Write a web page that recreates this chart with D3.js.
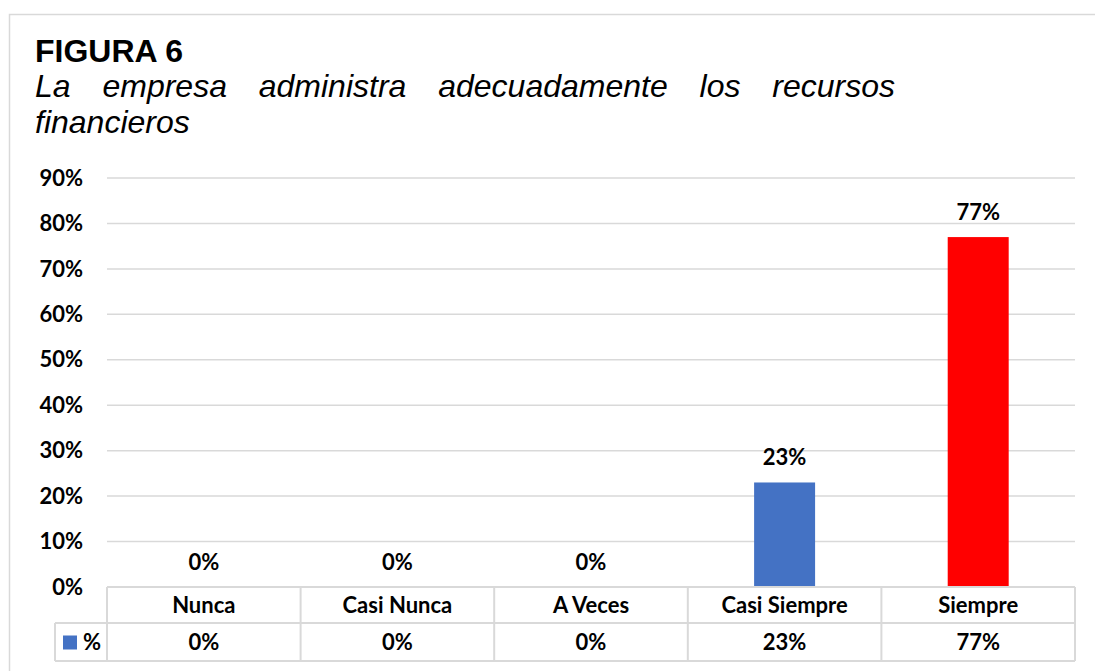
<!DOCTYPE html>
<html>
<head>
<meta charset="utf-8">
<script src="https://cdn.jsdelivr.net/npm/d3@7"></script>
<style>
  body { margin: 0; background: #fff; }
  svg { display: block; }
  .lbl { font-family: Lato, 'Open Sans', sans-serif; font-weight: bold; font-size: 22px; fill: #000; }
</style>
</head>
<body>
<svg id="chart" width="1095" height="671"></svg>
<script>
'use strict';

var categories = ['Nunca', 'Casi Nunca', 'A Veces', 'Casi Siempre', 'Siempre'];
var values = [0, 0, 0, 0.23, 0.77];
var barColors = ['#4472C4', '#4472C4', '#4472C4', '#4472C4', '#FF0000'];
var yTicks = [0, 0.1, 0.2, 0.3, 0.4, 0.5, 0.6, 0.7, 0.8, 0.9];
var seriesName = '%';

var svg = d3.select('#chart');
var gridColor = '#d9d9d9';

var margins = { left: 107, right: 20, top: 178, bottom: 84 };
var width = 1095 - margins.left - margins.right;
var height = 671 - margins.top - margins.bottom;
var rowH = 37;

// outer frame
svg.append('rect').attr('x', 9.5).attr('y', 14.5).attr('width', 1200).attr('height', 800)
	.attr('fill', 'none').attr('stroke', gridColor).attr('stroke-width', 1.5);

// title
svg.append('text').attr('x', 35).attr('y', 62)
	.style('font-family', 'Liberation Sans, Arial, sans-serif').style('font-weight', 'bold').style('font-size', '32px')
	.text('FIGURA 6');

var sub1 = svg.append('text').attr('x', 35).attr('y', 97)
	.style('font-family', 'Liberation Sans, Arial, sans-serif').style('font-style', 'italic').style('font-size', '32px')
	.text('La empresa administra adecuadamente los recursos');
// justify first line like the source document
var natural = sub1.node().getComputedTextLength();
sub1.style('word-spacing', ((860 - natural) / 5) + 'px');

svg.append('text').attr('x', 35).attr('y', 133)
	.style('font-family', 'Liberation Sans, Arial, sans-serif').style('font-style', 'italic').style('font-size', '32px')
	.text('financieros');

var g = svg.append('g').attr('transform', 'translate(' + margins.left + ',' + margins.top + ')');

var x = d3.scaleBand().domain(categories).range([0, width]).padding(0);
var y = d3.scaleLinear().domain([0, 0.9]).range([height, 0]);
var barW = x.bandwidth() * 0.315;

// gridlines
g.selectAll('line.grid').data(yTicks.slice(1)).enter().append('line').attr('class', 'grid')
	.attr('x1', 0).attr('x2', width)
	.attr('y1', function (d) { return y(d); }).attr('y2', function (d) { return y(d); })
	.attr('stroke', gridColor).attr('stroke-width', 1.5);

// y labels
g.selectAll('text.ytick').data(yTicks).enter().append('text').attr('class', 'lbl ytick')
	.attr('x', -24).attr('y', function (d) { return y(d); }).attr('dy', '0.35em')
	.attr('text-anchor', 'end')
	.text(function (d) { return Math.round(d * 100) + '%'; });

// bars
g.selectAll('rect.bar').data(values).enter().append('rect').attr('class', 'bar')
	.attr('x', function (d, i) { return x(categories[i]) + (x.bandwidth() - barW) / 2; })
	.attr('y', function (d) { return y(d); })
	.attr('width', barW)
	.attr('height', function (d) { return height - y(d); })
	.attr('fill', function (d, i) { return barColors[i]; });

// data labels
g.selectAll('text.val').data(values).enter().append('text').attr('class', 'lbl val')
	.attr('x', function (d, i) { return x(categories[i]) + x.bandwidth() / 2; })
	.attr('y', function (d) { return y(d) - 17; })
	.attr('text-anchor', 'middle')
	.text(function (d) { return Math.round(d * 100) + '%'; });

// data table
var t = g.append('g').attr('transform', 'translate(0,' + height + ')');
var legendW = 52;

t.append('line').attr('x1', 0).attr('x2', width).attr('y1', 0).attr('y2', 0)
	.attr('stroke', gridColor).attr('stroke-width', 2);
t.append('line').attr('x1', -legendW).attr('x2', width).attr('y1', rowH - 1).attr('y2', rowH - 1)
	.attr('stroke', gridColor).attr('stroke-width', 2);
t.append('line').attr('x1', -legendW).attr('x2', width).attr('y1', rowH * 2).attr('y2', rowH * 2)
	.attr('stroke', gridColor).attr('stroke-width', 2);
t.append('line').attr('x1', -legendW).attr('x2', -legendW).attr('y1', rowH - 1).attr('y2', rowH * 2)
	.attr('stroke', gridColor).attr('stroke-width', 2);

var edges = categories.map(function (c) { return x(c); }).concat([width]);
t.selectAll('line.col').data(edges).enter().append('line').attr('class', 'col')
	.attr('x1', function (d) { return d; }).attr('x2', function (d) { return d; })
	.attr('y1', 0).attr('y2', rowH * 2)
	.attr('stroke', gridColor).attr('stroke-width', 2);

t.selectAll('text.cat').data(categories).enter().append('text').attr('class', 'lbl cat')
	.attr('x', function (d) { return x(d) + x.bandwidth() / 2; })
	.attr('y', rowH / 2).attr('dy', '0.35em')
	.attr('text-anchor', 'middle')
	.text(function (d) { return d; });

t.selectAll('text.cell').data(values).enter().append('text').attr('class', 'lbl cell')
	.attr('x', function (d, i) { return x(categories[i]) + x.bandwidth() / 2; })
	.attr('y', rowH * 1.5).attr('dy', '0.35em')
	.attr('text-anchor', 'middle')
	.text(function (d) { return Math.round(d * 100) + '%'; });

// legend key
t.append('rect').attr('x', -legendW + 8).attr('y', rowH * 1.5 - 7).attr('width', 14).attr('height', 14)
	.attr('fill', barColors[0]);
t.append('text').attr('class', 'lbl').attr('x', -legendW + 28).attr('y', rowH * 1.5).attr('dy', '0.35em')
	.text(seriesName);
</script>
</body>
</html>
